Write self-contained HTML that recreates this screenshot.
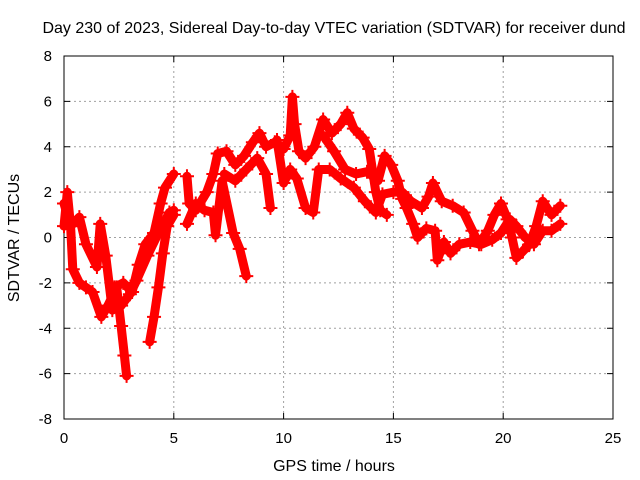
<!DOCTYPE html>
<html><head><meta charset="utf-8"><style>
body{margin:0;background:#fff}
svg{display:block;font-family:"Liberation Sans",sans-serif}
</style></head><body>
<svg id="chart" width="640" height="480" viewBox="0 0 640 480">
<rect width="640" height="480" fill="#fff"/>
<text x="334" y="33" font-size="16" text-anchor="middle">Day 230 of 2023, Sidereal Day-to-day VTEC variation (SDTVAR) for receiver dund</text>
<g id="grid"></g>
<g id="axes"></g>
<g id="series"></g>
<text x="334" y="471" font-size="16" text-anchor="middle">GPS time / hours</text>
<text transform="translate(19,238) rotate(-90)" font-size="16" text-anchor="middle">SDTVAR / TECUs</text>
</svg>
<script>
const xTicks=[0,5,10,15,20,25];
const yTicks=[-8,-6,-4,-2,0,2,4,6,8];
const track1=[[0,0.5],[0.15,2],[0.3,0.5],[0.4,-1.4],[0.7,-2],[1.0,-2.2],[1.3,-2.4],[1.7,-3.5],[2.0,-3],[2.4,-2.2],[2.6,-3.9],[2.75,-5.2],[2.85,-6.1]];
const track2=[[0,1.5],[0.3,0.5],[0.7,0.9],[1.0,-0.3],[1.5,-1.3],[1.65,0.6],[1.9,-0.8],[2.2,-3.2],[2.6,-3],[3.0,-2.5],[3.3,-1.9],[3.8,-0.8],[4.3,0.2],[4.8,1.1],[5.0,1.2]];
const track3=[[2.3,-2.2],[2.7,-2],[3.1,-2.4],[3.4,-1.2],[3.7,-0.3],[4.1,0.2],[4.4,1.5],[4.6,2.2],[5.0,2.8]];
const track4=[[3.9,-4.6],[4.1,-3.5],[4.3,-2.2],[4.5,-0.7],[4.7,0.5],[5.0,1.0]];
const track5=[[5.6,2.7],[5.7,1.5],[6.0,1.2],[6.5,2.0],[6.8,2.8],[7.0,3.7],[7.4,3.8],[7.8,3.2],[8.2,3.6],[8.6,4.2],[8.9,4.6],[9.2,4.0],[9.6,4.2],[10.0,3.9],[10.3,4.5],[10.4,6.2],[10.5,5.0],[10.7,3.8],[11.0,3.5],[11.4,4.0],[11.8,5.2],[12.2,4.6],[12.6,5.0],[12.9,5.5],[13.2,4.8],[13.6,4.4],[13.9,3.9],[14.2,2.0],[14.4,1.2],[14.7,1.0]];
const track6=[[5.6,0.6],[6.0,1.5],[6.4,1.2],[6.8,1.1],[6.9,0.1],[7.2,2.5],[7.7,0.2],[8.0,-0.5],[8.3,-1.7]];
const track7=[[7.3,2.8],[7.8,2.5],[8.3,3.0],[8.8,3.5],[9.2,2.8],[9.4,1.3]];
const track8=[[9.7,4.3],[10.0,2.4],[10.3,3.0],[10.6,2.6],[11.0,1.3],[11.35,1.1],[11.6,3.0],[12.1,3.0],[12.6,2.6],[13.2,2.2],[13.7,1.6],[14.2,1.1],[14.5,1.9],[15.0,2.0],[15.4,2.0],[15.8,1.6],[16.3,1.3],[16.6,1.8],[16.8,2.4],[17.2,1.6],[17.7,1.4],[18.2,1.1],[18.6,0.3],[18.9,-0.3],[19.3,0.3],[19.6,1.0],[19.9,1.5],[20.2,0.8],[20.4,0],[20.6,-0.9],[20.9,-0.6],[21.2,-0.3],[21.5,0.5],[21.8,1.6],[22.2,1.0],[22.6,1.4]];
const track9=[[11.8,4.5],[12.3,3.8],[12.8,3.0],[13.3,2.8],[13.8,2.9],[14.3,2.5],[14.6,3.6],[14.9,3.2],[15.2,2.5],[15.4,1.7],[15.6,1.3],[15.9,0.6],[16.1,0.0],[16.5,0.4],[16.9,0.3],[17.0,-1.0],[17.3,-0.2],[17.6,-0.7],[18.0,-0.3],[18.5,-0.2],[19.0,-0.3],[19.5,-0.1],[19.9,0.2],[20.3,0.8],[20.6,0.5],[21.0,0.0],[21.4,-0.3],[21.8,0.3],[22.2,0.3],[22.6,0.6]];
const tracks=[track1,track2,track3,track4,track5,track6,track7,track8,track9];

const X0=64,X1=613,Y0=419,Y1=56;
const xs=t=>X0+(t-0)/(25-0)*(X1-X0);
const ys=v=>Y0-(v+8)/16*(Y0-Y1);
const NS="http://www.w3.org/2000/svg";
function mk(tag,attrs,parent){const e=document.createElementNS(NS,tag);for(const k in attrs)e.setAttribute(k,attrs[k]);parent.appendChild(e);return e;}
const grid=document.getElementById('grid'),axes=document.getElementById('axes'),series=document.getElementById('series');
xTicks.forEach(t=>{
  const x=xs(t);
  if(t>0&&t<25){const g=mk('line',{x1:x,y1:Y1,x2:x,y2:Y0,stroke:'#a0a0a0','stroke-dasharray':'2,3'},grid);
  
  }
  mk('line',{x1:x,y1:Y0,x2:x,y2:Y0-6,stroke:'#000'},axes);
  mk('line',{x1:x,y1:Y1,x2:x,y2:Y1+6,stroke:'#000'},axes);
  const l=mk('text',{x:x,y:Y0+24,'font-size':15,'text-anchor':'middle'},axes);l.textContent=t;
  
  
});
yTicks.forEach(v=>{
  const y=ys(v);
  if(v>-8&&v<8){const g=mk('line',{x1:X0,y1:y,x2:X1,y2:y,stroke:'#a0a0a0','stroke-dasharray':'2,3'},grid);
  
  }
  mk('line',{x1:X0,y1:y,x2:X0+6,y2:y,stroke:'#000'},axes);
  mk('line',{x1:X1,y1:y,x2:X1-6,y2:y,stroke:'#000'},axes);
  const l=mk('text',{x:X0-12,y:y+5,'font-size':15,'text-anchor':'end'},axes);l.textContent=v;
  
  
});
const fr=mk('rect',{x:X0,y:Y1,width:X1-X0,height:Y0-Y1,fill:'none',stroke:'#000'},axes);


tracks.forEach((tr,i)=>{
  const p=mk('polyline',{points:tr.map(d=>xs(d[0])+','+ys(d[1])).join(' '),fill:'none',stroke:'#f00','stroke-width':9,'stroke-linejoin':'round','stroke-linecap':'round'},series);
  
  
  tr.forEach(d=>{
    const x=xs(d[0]),y=ys(d[1]);
    const m=mk('path',{d:`M${x-7},${y}H${x+7}M${x},${y-7}V${y+7}`,stroke:'#f00','stroke-width':2},series);
    
    
  });
});
</script>
</body></html>
